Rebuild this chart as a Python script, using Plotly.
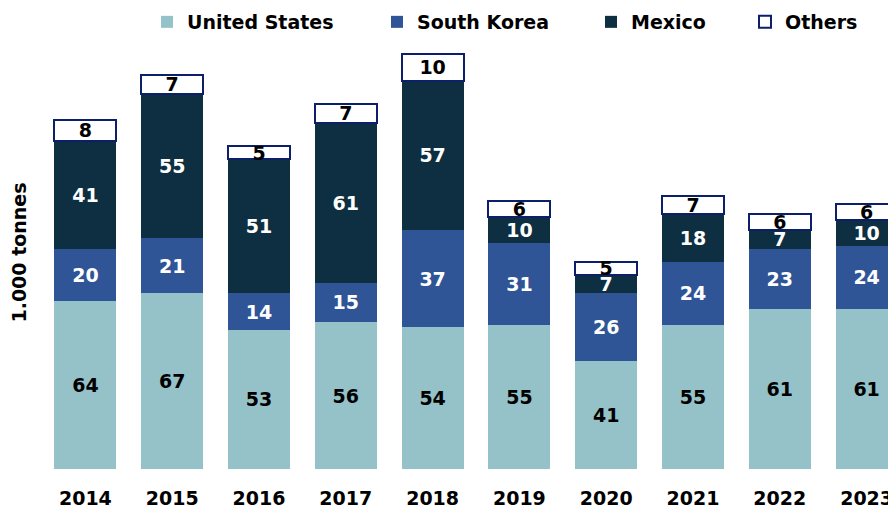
import plotly.graph_objects as go

years = ["2014", "2015", "2016", "2017", "2018", "2019", "2020", "2021", "2022", "2023"]
united_states = [64, 67, 53, 56, 54, 55, 41, 55, 61, 61]
south_korea = [20, 21, 14, 15, 37, 31, 26, 24, 23, 24]
mexico = [41, 55, 51, 61, 57, 10, 7, 18, 7, 10]
others = [8, 7, 5, 7, 10, 6, 5, 7, 6, 6]

FONT = "DejaVu Sans"
W, H = 896, 510
OFF = 8  # page body margin offset
ML, MR, MT, MB = 42 - OFF, 0, 36 - OFF, H - (469 - OFF)
PW = W - ML - MR
PH = H - MT - MB

series = [
    ("United States", united_states, "#94C2C8", "#94C2C8", 0, "black", "legend"),
    ("South Korea", south_korea, "#2F5597", "#2F5597", 0, "white", "legend2"),
    ("Mexico", mexico, "#0D2F41", "#0D2F41", 0, "white", "legend3"),
    ("Others", others, "white", "#0B1F6A", 2, "black", "legend4"),
]

fig = go.Figure()
for name, vals, col, lcol, lw, tcol, lg in series:
    fig.add_trace(go.Bar(
        x=years, y=vals, name=name,
        marker=dict(color=col, line=dict(color=lcol, width=lw)),
        text=[str(v) for v in vals],
        textposition="inside", insidetextanchor="middle", textangle=0,
        textfont=dict(family=FONT, size=19, color=tcol, weight=700),
        legend=lg,
    ))

legend_text_x = [187, 417, 631, 785]
common = dict(orientation="h", xanchor="left", yanchor="middle",
              xref="container", yref="container", y=1 - (22 - OFF) / H,
              font=dict(family=FONT, size=19, color="black", weight=700),
              bgcolor="rgba(0,0,0,0)", borderwidth=0, itemwidth=30)
legends = {}
for i, key in enumerate(["legend", "legend2", "legend3", "legend4"]):
    legends[key] = dict(x=(legend_text_x[i] - 40 - OFF) / W, **common)

fig.update_layout(
    width=W, height=H,
    margin=dict(l=ML, r=MR, t=MT, b=MB, autoexpand=False),
    barmode="stack", bargap=0.286,
    plot_bgcolor="white", paper_bgcolor="white",
    showlegend=True,
    uniformtext=dict(minsize=19, mode="show"),
    xaxis=dict(type="category", range=[-0.5, -0.5 + PW / 86.8], automargin=False,
               showgrid=False, showline=False, zeroline=False, ticks="",
               tickfont=dict(family=FONT, size=19, color="black", weight=700),
               ticklabelstandoff=16),
    yaxis=dict(range=[0, PH / 2.625], showgrid=False, showline=False, automargin=False,
               zeroline=False, showticklabels=False, ticks="",
               title=dict(text="1.000 tonnes", standoff=10,
                          font=dict(family=FONT, size=19, color="black", weight=700))),
    **legends,
)

fig.write_html("out.html")
